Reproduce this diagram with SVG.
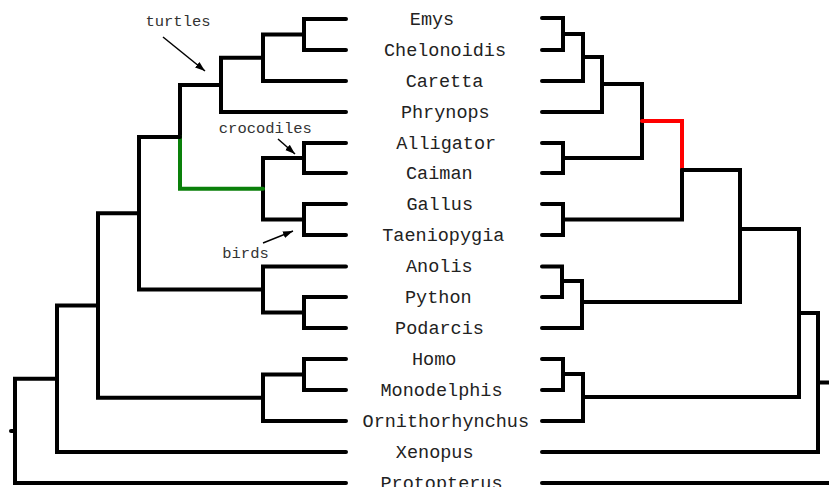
<svg xmlns="http://www.w3.org/2000/svg" width="829" height="487" viewBox="0 0 829 487">
<defs>
<style>
.br{fill:none;stroke:#000;stroke-width:4;stroke-linecap:round;stroke-linejoin:miter}
.green{stroke:#0a800a}
.red{stroke:#ff0000}
.lab{font-family:"Liberation Mono","Courier New",monospace;font-size:18.5px;fill:#222;text-anchor:middle}
.ann{font-family:"Liberation Mono","Courier New",monospace;font-size:15.5px;fill:#333;text-anchor:middle}
.arr{fill:none;stroke:#000;stroke-width:1.5;marker-end:url(#ah)}
</style>
<marker id="ah" markerUnits="userSpaceOnUse" markerWidth="11" markerHeight="8" refX="10" refY="4" orient="auto">
<path d="M0,0.5 L10,4 L0,7.5 z" fill="#000"/>
</marker>
</defs>
<rect width="829" height="487" fill="#fff"/>
<g id="connectors">
<g id="left-tree">
<path class="br" d="M346,19 H304 V50 H346"/>
<path class="br" d="M304,34.5 H263 V81 H346"/>
<path class="br" d="M263,57.75 H221 V112 H346"/>
<path class="br" d="M346,143 H304 V173 H346"/>
<path class="br" d="M346,204 H304 V235 H346"/>
<path class="br" d="M304,158 H263 V219.5 H304"/>
<path class="br" d="M221,84.9 H180 V137"/>
<path class="br green" d="M180,137 V188.75 H263"/>
<path class="br" d="M346,297 H304 V328 H346"/>
<path class="br" d="M346,266.5 H263 V312.5 H304"/>
<path class="br" d="M180,137 H139 V289.5 H263"/>
<path class="br" d="M346,359 H304 V390 H346"/>
<path class="br" d="M304,374.5 H263 V421 H346"/>
<path class="br" d="M139,213.2 H98 V397.75 H263"/>
<path class="br" d="M98,305.5 H57 V452 H346"/>
<path class="br" d="M57,378.75 H15 V483 H346"/>
<path class="br" d="M11,431 H15"/>
</g>
<g id="right-tree">
<path class="br" d="M542,18 H563 V50 H542"/>
<path class="br" d="M563,34 H583 V81 H542"/>
<path class="br" d="M583,57 H602 V112 H542"/>
<path class="br" d="M542,143 H563 V173 H542"/>
<path class="br" d="M602,84 H642 V158 H563"/>
<path class="br" d="M542,204 H563 V235 H542"/>
<path class="br red" d="M642,121 H682 V170"/>
<path class="br" d="M682,170 V219.5 H563"/>
<path class="br" d="M542,266.5 H562 V297 H542"/>
<path class="br" d="M562,281 H582 V328 H542"/>
<path class="br" d="M682,170 H740 V302 H582"/>
<path class="br" d="M542,359 H563 V390 H542"/>
<path class="br" d="M563,374 H583 V421 H542"/>
<path class="br" d="M740,229 H799 V397 H583"/>
<path class="br" d="M799,313 H818 V452 H542"/>
<path class="br" d="M818,382.5 H834"/>
<path class="br" d="M542,483 H834"/>
</g>
</g>
<g id="Emys"><text class="lab" x="432" y="24.5">Emys</text></g>
<g id="Chelonoidis"><text class="lab" x="445" y="55.5">Chelonoidis</text></g>
<g id="Caretta"><text class="lab" x="444.5" y="86.5">Caretta</text></g>
<g id="Phrynops"><text class="lab" x="445.3" y="117.5">Phrynops</text></g>
<g id="Alligator"><text class="lab" x="446.2" y="148.5">Alligator</text></g>
<g id="Caiman"><text class="lab" x="439.3" y="178.5">Caiman</text></g>
<g id="Gallus"><text class="lab" x="439.7" y="209.5">Gallus</text></g>
<g id="Taeniopygia"><text class="lab" x="443.3" y="240.5">Taeniopygia</text></g>
<g id="Anolis"><text class="lab" x="439.3" y="272">Anolis</text></g>
<g id="Python"><text class="lab" x="438.3" y="302.5">Python</text></g>
<g id="Podarcis"><text class="lab" x="439.5" y="333.5">Podarcis</text></g>
<g id="Homo"><text class="lab" x="434.2" y="364.5">Homo</text></g>
<g id="Monodelphis"><text class="lab" x="441.5" y="395.5">Monodelphis</text></g>
<g id="Ornithorhynchus"><text class="lab" x="445.8" y="426.5">Ornithorhynchus</text></g>
<g id="Xenopus"><text class="lab" x="434.7" y="457.5">Xenopus</text></g>
<g id="Protopterus"><text class="lab" x="441.5" y="488.5">Protopterus</text></g>
<g id="ann-turtles">
<text class="ann" x="178" y="26">turtles</text>
<line class="arr" x1="163" y1="37" x2="205" y2="71"/>
</g>
<g id="ann-crocodiles">
<text class="ann" x="265.3" y="132.5">crocodiles</text>
<line class="arr" x1="278" y1="139" x2="295" y2="154"/>
</g>
<g id="ann-birds">
<text class="ann" x="245.5" y="258">birds</text>
<line class="arr" x1="263" y1="243" x2="293" y2="231"/>
</g>
</svg>
